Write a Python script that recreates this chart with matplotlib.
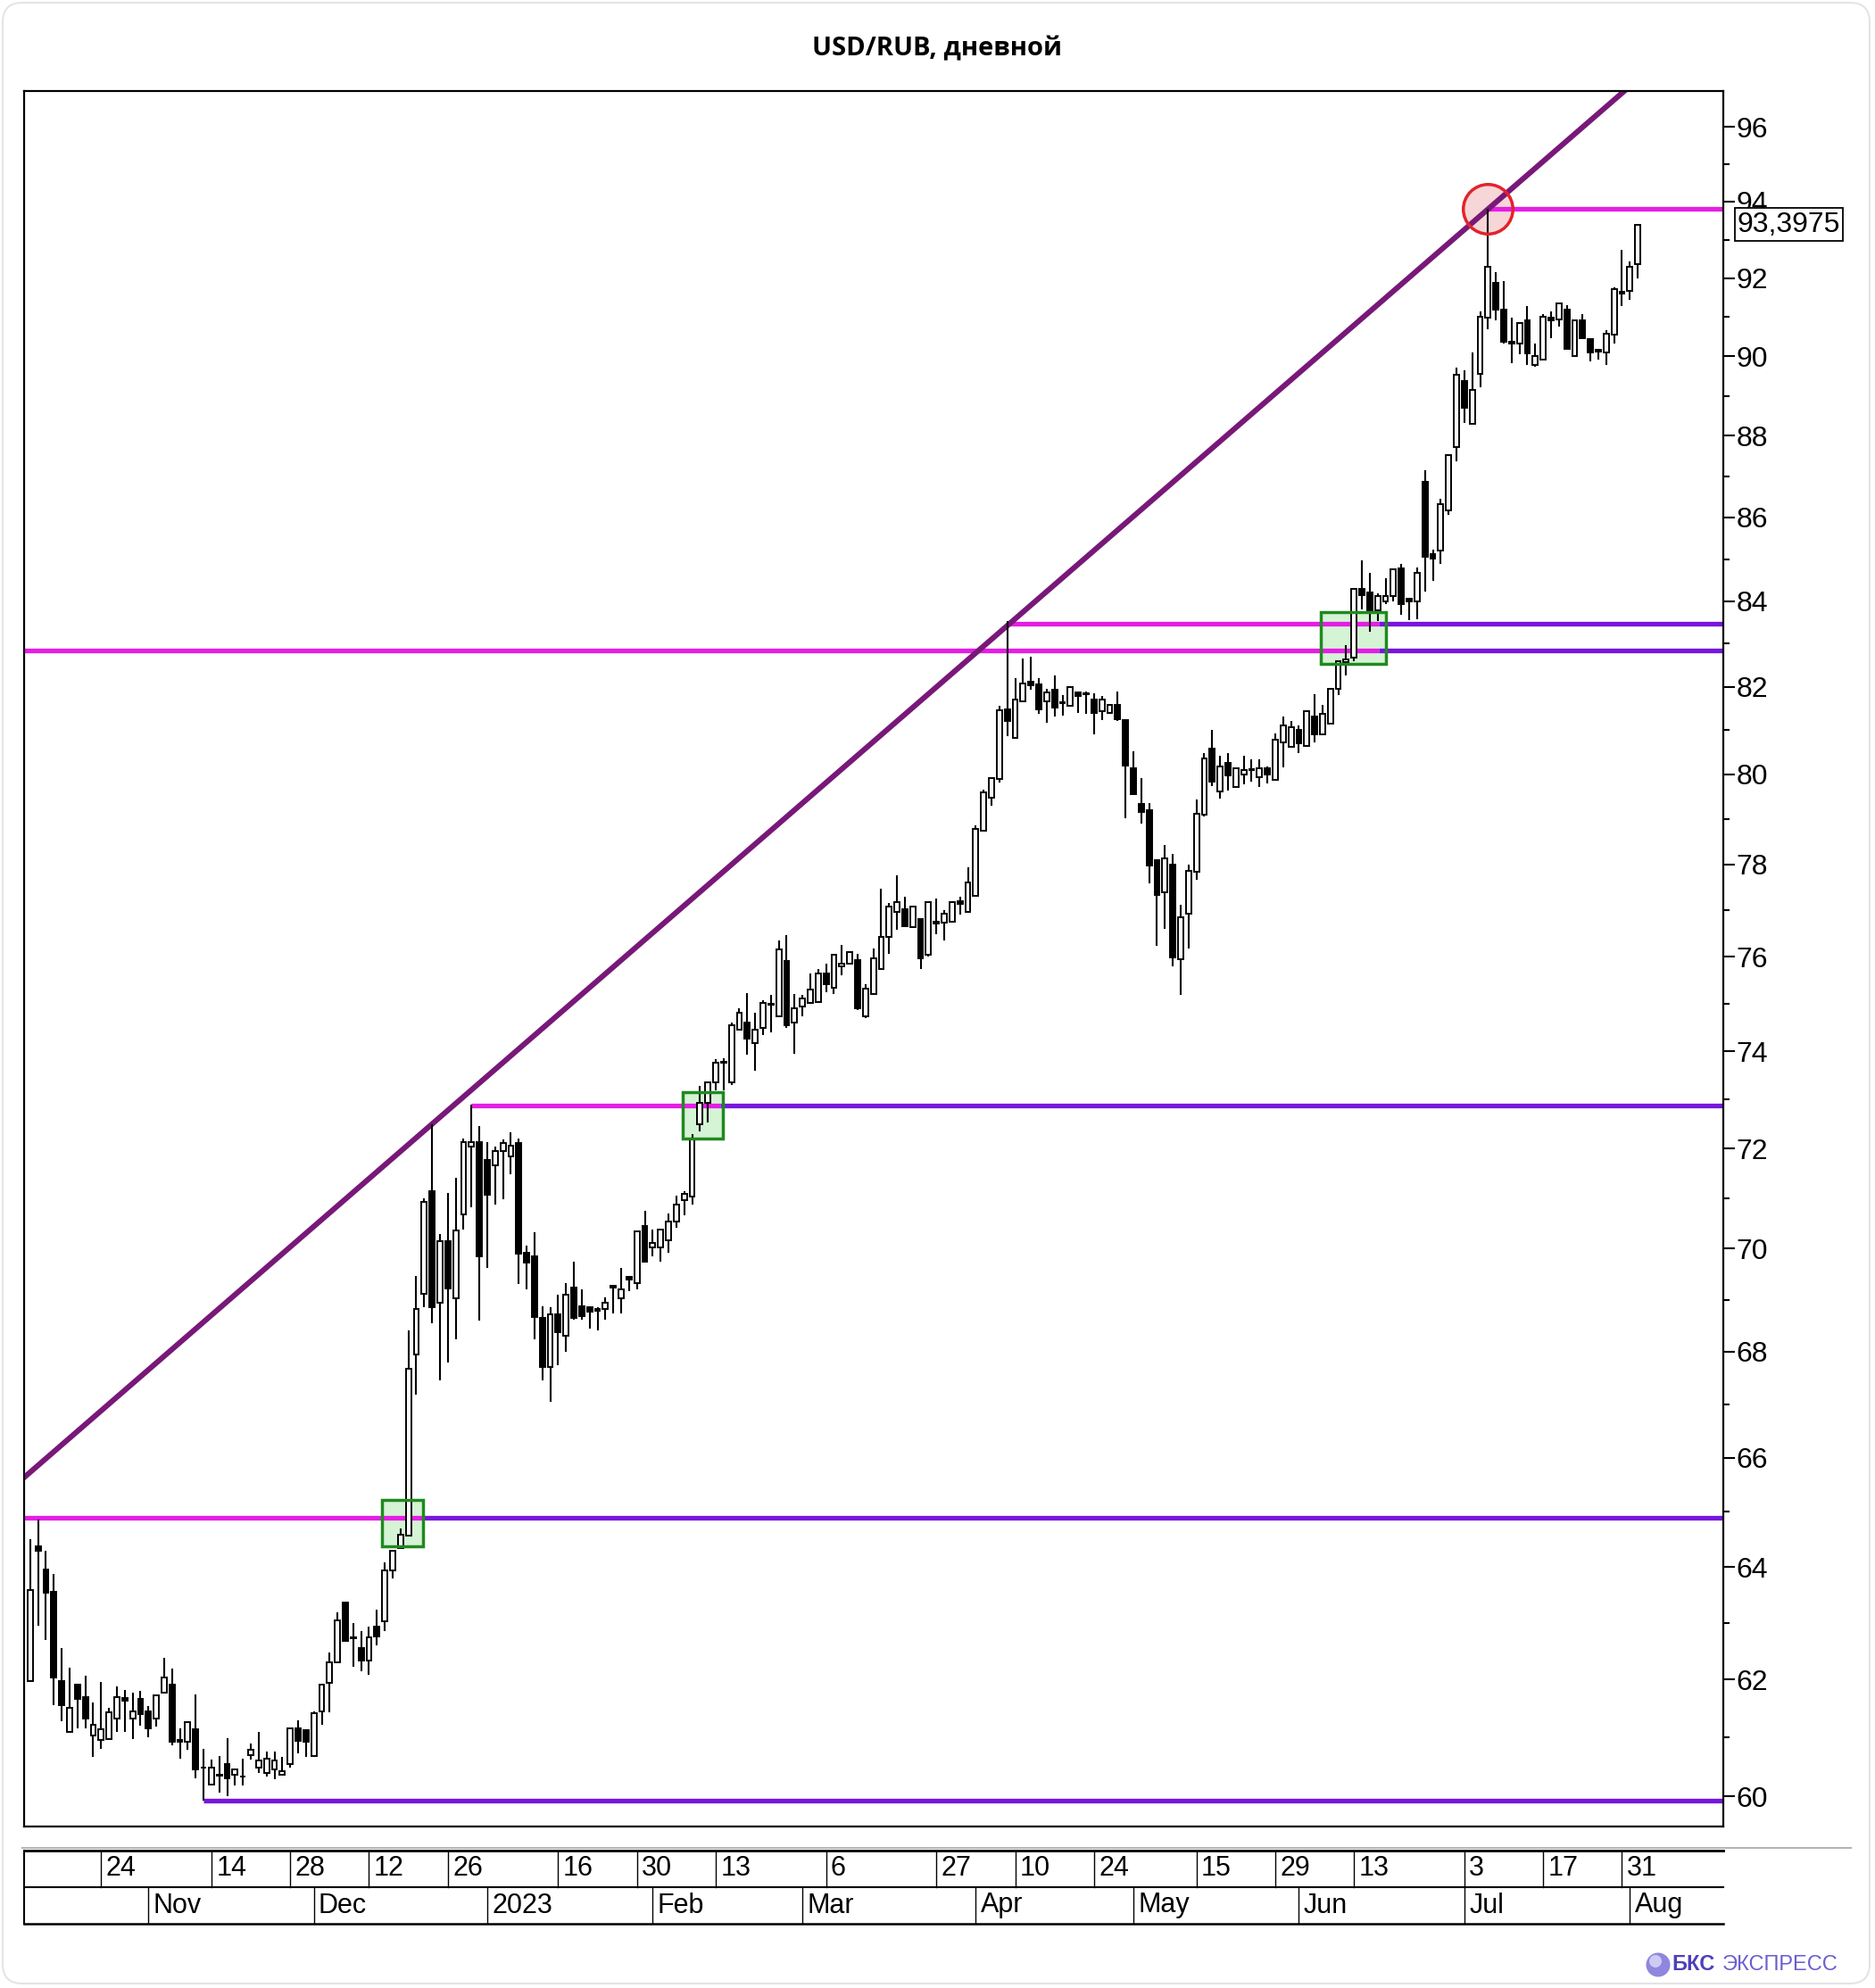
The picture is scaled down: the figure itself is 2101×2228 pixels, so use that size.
#!/usr/bin/env python3
"""USD/RUB daily candles with breakout levels and trend channel."""

import numpy as np
import pandas as pd
import matplotlib

matplotlib.use("Agg")
import matplotlib.pyplot as plt
import matplotlib.transforms as mtrans
from matplotlib.lines import Line2D
from matplotlib.patches import Rectangle, FancyBboxPatch, Ellipse
from matplotlib.ticker import FixedLocator, FixedFormatter, NullFormatter

# trading calendar (weekdays minus exchange holidays)
first_day = "2022-10-11"
last_day = "2023-08-02"
holidays = ["2022-11-04", "2023-01-02", "2023-02-23", "2023-03-08",
            "2023-05-01", "2023-05-09", "2023-06-12"]

opens = [
    61.97, 64.38, 63.95, 63.55, 61.98, 61.10, 61.92, 61.69, 61.04, 60.96,
    60.98, 61.32, 61.68, 61.32, 61.66, 61.45, 61.32, 61.78, 61.92, 60.95,
    60.93, 61.14, 60.49, 60.20, 60.37, 60.55, 60.36, 60.34, 60.70, 60.49,
    60.40, 60.46, 60.36, 60.54, 61.16, 61.12, 60.69, 61.45, 61.94, 62.30,
    63.36, 62.75, 62.55, 62.34, 62.94, 63.03, 63.94, 64.34, 64.56, 67.94,
    69.11, 71.15, 68.94, 70.14, 69.03, 70.67, 72.04, 72.13, 71.77, 71.66,
    71.95, 71.84, 72.12, 69.92, 69.85, 68.65, 67.70, 68.71, 68.31, 69.24,
    68.88, 68.85, 68.78, 68.83, 69.28, 69.03, 69.45, 69.32, 70.45, 70.02,
    70.02, 70.16, 70.54, 70.97, 71.03, 72.50, 72.93, 73.36, 73.78, 73.35,
    74.45, 74.60, 74.18, 74.48, 74.97, 74.74, 75.90, 74.60, 74.94, 75.01,
    75.03, 75.63, 75.34, 75.80, 75.84, 75.92, 74.74, 75.21, 75.73, 76.42,
    76.96, 77.02, 76.64, 76.80, 76.03, 76.72, 76.73, 76.75, 77.19, 76.97,
    77.31, 78.74, 79.47, 79.90, 81.48, 80.83, 81.67, 82.12, 82.05, 81.67,
    81.92, 81.64, 81.56, 81.87, 81.85, 81.70, 81.44, 81.39, 81.59, 81.24,
    80.13, 79.33, 79.19, 78.10, 77.39, 77.99, 75.94, 76.92, 77.83, 79.09,
    80.58, 79.62, 80.26, 79.71, 79.99, 80.10, 79.93, 80.13, 79.88, 80.73,
    80.62, 81.00, 80.64, 81.32, 80.90, 81.16, 81.95, 82.58, 82.67, 84.28,
    84.20, 83.79, 83.99, 84.13, 84.77, 84.05, 83.99, 86.87, 85.11, 85.20,
    86.18, 87.72, 89.38, 88.30, 89.54, 90.97, 91.87, 91.18, 90.36, 90.32,
    90.91, 89.77, 89.90, 90.98, 90.93, 91.18, 90.01, 90.91, 90.43, 90.15,
    90.09, 90.55, 91.64, 91.67, 92.35,
]
highs = [
    64.51, 64.86, 64.30, 63.88, 62.56, 62.21, 61.92, 62.07, 61.60, 61.96,
    61.51, 61.89, 61.82, 61.78, 61.80, 61.54, 61.75, 62.39, 62.20, 61.16,
    61.27, 61.74, 60.81, 60.62, 60.68, 60.99, 60.47, 60.63, 60.90, 61.10,
    60.76, 60.76, 60.67, 61.16, 61.29, 61.14, 61.45, 61.92, 62.48, 63.19,
    63.36, 63.00, 62.85, 62.94, 63.24, 64.08, 64.30, 64.70, 68.40, 69.47,
    71.00, 72.50, 70.29, 71.11, 71.41, 72.20, 72.89, 72.46, 72.14, 72.05,
    72.19, 72.34, 72.20, 70.06, 70.32, 68.88, 68.85, 69.10, 69.32, 69.74,
    69.20, 68.88, 68.85, 69.05, 69.28, 69.63, 69.45, 70.35, 70.75, 70.38,
    70.38, 70.70, 71.05, 71.15, 72.30, 73.29, 73.36, 73.84, 73.86, 74.60,
    74.90, 75.22, 74.80, 75.08, 75.18, 76.34, 76.46, 75.21, 75.18, 75.63,
    75.73, 75.85, 76.06, 76.25, 76.12, 76.06, 75.41, 76.18, 77.46, 77.15,
    77.75, 77.30, 77.10, 76.82, 77.19, 77.25, 77.01, 77.20, 77.30, 77.93,
    78.87, 79.65, 79.93, 81.56, 83.52, 82.19, 82.66, 82.70, 82.19, 81.96,
    82.26, 81.81, 82.02, 81.88, 81.88, 81.85, 81.78, 81.60, 81.89, 81.25,
    80.53, 79.92, 79.36, 78.12, 78.42, 78.22, 77.11, 77.99, 79.44, 80.48,
    81.00, 80.43, 80.48, 80.13, 80.42, 80.33, 80.33, 80.18, 80.92, 81.32,
    81.21, 81.11, 81.45, 81.82, 81.58, 81.95, 82.60, 82.96, 84.30, 84.97,
    84.68, 84.18, 84.54, 84.75, 84.89, 84.05, 84.80, 87.16, 85.23, 86.45,
    87.53, 89.71, 89.64, 90.10, 91.13, 93.80, 92.16, 91.92, 90.98, 90.85,
    91.27, 90.31, 91.08, 91.14, 91.35, 91.31, 90.92, 91.08, 90.44, 90.16,
    90.66, 91.75, 92.73, 92.44, 93.40,
]
lows = [
    61.97, 62.95, 62.70, 61.56, 61.28, 61.10, 61.15, 61.15, 60.66, 60.81,
    60.98, 61.09, 61.09, 60.97, 61.20, 61.00, 61.19, 61.77, 60.86, 60.64,
    60.79, 60.30, 59.92, 60.18, 60.06, 60.00, 60.18, 60.18, 60.62, 60.40,
    60.34, 60.28, 60.36, 60.48, 60.73, 60.67, 60.69, 61.22, 61.43, 62.30,
    62.68, 62.22, 62.15, 62.09, 62.60, 62.85, 63.80, 64.34, 64.56, 67.18,
    68.85, 68.54, 67.46, 67.80, 68.24, 70.38, 70.82, 68.59, 69.63, 70.88,
    70.99, 71.49, 69.31, 69.20, 68.24, 67.46, 67.04, 67.74, 68.00, 68.62,
    68.62, 68.44, 68.41, 68.62, 68.74, 68.74, 69.17, 69.20, 69.72, 69.85,
    69.75, 69.92, 70.41, 70.66, 70.88, 72.35, 72.53, 73.19, 73.19, 73.30,
    74.45, 73.93, 73.60, 74.33, 74.40, 74.74, 74.48, 73.94, 74.73, 75.00,
    75.03, 75.25, 75.21, 75.60, 75.82, 74.87, 74.69, 75.18, 75.73, 76.05,
    76.57, 76.66, 76.62, 75.73, 76.01, 76.48, 76.34, 76.73, 76.90, 76.95,
    77.31, 78.74, 79.30, 79.82, 80.86, 80.83, 81.67, 81.92, 81.37, 81.17,
    81.31, 81.34, 81.54, 81.40, 81.37, 80.90, 81.24, 81.38, 81.21, 79.01,
    79.53, 78.89, 77.58, 76.24, 76.60, 75.80, 75.19, 76.17, 77.66, 79.06,
    79.73, 79.46, 79.63, 79.71, 79.77, 79.83, 79.71, 79.79, 79.88, 80.16,
    80.62, 80.48, 80.62, 80.73, 80.90, 81.16, 81.80, 82.26, 82.60, 83.80,
    83.27, 83.52, 83.93, 84.00, 83.67, 83.55, 83.57, 84.22, 84.49, 84.88,
    86.06, 87.37, 88.32, 88.30, 89.22, 90.68, 90.92, 90.32, 89.81, 90.04,
    89.77, 89.72, 89.90, 90.45, 90.74, 90.19, 89.99, 90.45, 89.87, 89.90,
    89.77, 90.32, 91.27, 91.44, 92.00,
]
closes = [
    63.58, 64.30, 63.54, 62.04, 61.56, 61.51, 61.66, 61.32, 61.22, 61.14,
    61.43, 61.69, 61.64, 61.45, 61.40, 61.15, 61.73, 62.04, 60.93, 60.92,
    61.27, 60.46, 60.48, 60.49, 60.35, 60.30, 60.45, 60.33, 60.79, 60.61,
    60.63, 60.61, 60.43, 61.16, 60.94, 60.92, 61.42, 61.92, 62.30, 63.04,
    62.68, 62.73, 62.34, 62.74, 62.76, 63.94, 64.30, 64.59, 67.67, 68.82,
    70.93, 68.86, 70.14, 69.22, 70.36, 72.13, 72.13, 69.85, 71.07, 71.95,
    72.12, 72.06, 69.91, 69.73, 68.66, 67.70, 68.71, 68.37, 69.10, 68.65,
    68.68, 68.77, 68.83, 68.95, 69.24, 69.20, 69.40, 70.35, 69.75, 70.12,
    70.38, 70.54, 70.88, 71.09, 72.20, 72.93, 73.36, 73.76, 73.76, 74.55,
    74.81, 74.26, 74.45, 75.01, 75.00, 76.15, 74.55, 74.90, 75.10, 75.30,
    75.63, 75.42, 76.04, 75.84, 76.10, 74.90, 75.32, 75.97, 76.42, 77.08,
    77.18, 76.66, 77.08, 75.97, 77.17, 76.75, 76.92, 77.18, 77.13, 77.60,
    78.78, 79.60, 79.91, 81.46, 81.21, 81.70, 82.08, 82.04, 81.48, 81.87,
    81.52, 81.62, 82.00, 81.78, 81.83, 81.40, 81.70, 81.58, 81.25, 80.19,
    79.56, 79.15, 77.97, 77.33, 78.14, 75.99, 76.84, 77.86, 79.11, 80.37,
    79.83, 80.17, 79.97, 80.13, 80.09, 80.12, 80.13, 79.99, 80.78, 81.11,
    81.07, 80.70, 81.44, 80.90, 81.37, 81.95, 82.60, 82.63, 84.28, 84.15,
    83.79, 84.11, 84.11, 84.75, 83.92, 84.00, 84.68, 85.06, 85.01, 86.32,
    87.53, 89.53, 88.69, 89.15, 91.00, 92.30, 91.19, 90.36, 90.31, 90.85,
    90.07, 90.01, 90.99, 90.90, 91.35, 90.19, 90.91, 90.45, 90.09, 90.11,
    90.57, 91.72, 91.60, 92.30, 93.3975,
]
last_price = 93.3975

# axis labels
day_tick_dates = ["2022-10-24", "2022-11-14", "2022-11-28", "2022-12-12", "2022-12-26",
                  "2023-01-16", "2023-01-30", "2023-02-13", "2023-03-06", "2023-03-27",
                  "2023-04-10", "2023-04-24", "2023-05-15", "2023-05-29", "2023-06-13",
                  "2023-07-03", "2023-07-17", "2023-07-31"]
day_labels = ["24", "14", "28", "12", "26", "16", "30", "13", "6", "27",
              "10", "24", "15", "29", "13", "3", "17", "31"]
month_labels = ["Nov", "Dec", "2023", "Feb", "Mar", "Apr", "May", "Jun", "Jul", "Aug"]
price_ticks = [60, 62, 64, 66, 68, 70, 72, 74, 76, 78, 80, 82, 84, 86, 88, 90, 92, 94, 96]
price_minor = [61, 63, 65, 67, 69, 71, 73, 75, 77, 79, 81, 83, 85, 87, 89, 91, 93, 95]

# drawn levels: price, first candle (None = from the left edge),
# candle where it turns from resistance (magenta) to support (violet)
level_values = [64.90, 59.92, 72.88, 82.84, 83.46, 93.80]
level_start = [None, 22, 56, None, 124, 185]
level_flip = [50.0, 22, 87.6, 171.2, 171.2, None]

# trend line through two highs (candle index, price)
trend_idx = [51, 185]
trend_val = [72.50, 93.80]

# breakout boxes: candle span and price span
box_left = [44.6, 82.8, 163.8]
box_right = [49.85, 87.85, 172.1]
box_low = [64.37, 72.21, 82.52]
box_high = [65.22, 73.15, 83.74]
touch_idx, touch_val = 185, 93.80

MAGENTA = "#e41ee4"
VIOLET = "#7816dc"
TREND = "#781878"

plt.rcParams["font.family"] = ["Liberation Sans", "DejaVu Sans"]

dates = pd.bdate_range(first_day, last_day)
dates = dates[~dates.isin(pd.to_datetime(holidays))]
idx = np.arange(len(dates))
o = np.array(opens)
h = np.array(highs)
l = np.array(lows)
c = np.array(closes)

W, H = 2101, 2228
fig = plt.figure(figsize=(W / 100, H / 100), dpi=100)
fig.patch.set_facecolor("white")

xlim = (-0.77, 214.86)
ax = fig.add_axes([27 / W, 1 - 2047 / H, 1904 / W, (2047 - 101.7) / H])
ax.set_yscale("log")
ax.set_xlim(*xlim)
ax.set_ylim(59.49, 96.98)

# breakout boxes and the touch circle (fills below, outlines on top)
for x0, x1, y0, y1 in zip(box_left, box_right, box_low, box_high):
    ax.add_patch(Rectangle((x0, y0), x1 - x0, y1 - y0, facecolor="#d5f3d5",
                           edgecolor="none", zorder=1))
    ax.add_patch(Rectangle((x0, y0), x1 - x0, y1 - y0, fill=False,
                           edgecolor="#1f8a1f", linewidth=2.5, zorder=6))
ax.plot([touch_idx], [touch_val], "o", markersize=40, markerfacecolor="#f6d6d6",
        markeredgecolor="none", zorder=1)
ax.plot([touch_idx], [touch_val], "o", markersize=40, markerfacecolor="none",
        markeredgecolor="#e2232b", markeredgewidth=2.5, zorder=6)

# horizontal levels
for val, start, flip in zip(level_values, level_start, level_flip):
    s = xlim[0] if start is None else start
    if flip is None:
        ax.plot([s, xlim[1]], [val, val], color=MAGENTA, lw=3.8, zorder=2,
                solid_capstyle="butt")
        continue
    if flip > s:
        ax.plot([s, flip], [val, val], color=MAGENTA, lw=3.8, zorder=2,
                solid_capstyle="butt")
    ax.plot([flip, xlim[1]], [val, val], color=VIOLET, lw=3.8, zorder=2,
            solid_capstyle="butt")

# trend line, straight on the log scale
slope = (np.log(trend_val[1]) - np.log(trend_val[0])) / (trend_idx[1] - trend_idx[0])
tx = np.array(xlim)
ty = np.exp(np.log(trend_val[0]) + slope * (tx - trend_idx[0]))
ax.plot(tx, ty, color=TREND, lw=4.4, zorder=2.5)

# candles
up = c >= o
body_lo = np.minimum(o, c)
body_hi = np.maximum(o, c)
ax.vlines(idx, l, h, color="black", lw=1.5, zorder=3)
ax.bar(idx, body_hi - body_lo, bottom=body_lo, width=0.66,
       color=np.where(up, "white", "black"), edgecolor="black", linewidth=1.4, zorder=4)

# price axis on the right
ax.yaxis.tick_right()
ax.yaxis.set_major_locator(FixedLocator(price_ticks))
ax.yaxis.set_major_formatter(FixedFormatter([str(v) for v in price_ticks]))
ax.yaxis.set_minor_locator(FixedLocator(price_minor))
ax.yaxis.set_minor_formatter(NullFormatter())
ax.tick_params(axis="y", which="major", direction="out", length=9.5, width=1.5,
               labelsize=23, pad=1)
ax.tick_params(axis="y", which="minor", direction="out", length=5, width=1.5)
ax.set_xticks([])
for sp in ax.spines.values():
    sp.set_linewidth(1.6)
    sp.set_color("black")

price_tr = mtrans.blended_transform_factory(ax.transAxes, ax.transData)
ax.text(1.0083, last_price, "93,3975", transform=price_tr, fontsize=23,
        ha="left", va="center", zorder=7,
        bbox=dict(boxstyle="square,pad=0.1", facecolor="white", edgecolor="black", lw=1.3))

# date band under the chart
axd = fig.add_axes([27 / W, 1 - 2156 / H, 1904 / W, 82 / H])
axd.set_xlim(*xlim)
axd.set_ylim(0, 2)
axd.axis("off")
axd.plot(xlim, [2, 2], color="black", lw=2.0, clip_on=False)
axd.plot(xlim, [1, 1], color="black", lw=1.5, clip_on=False)
axd.plot(xlim, [0, 0], color="black", lw=1.8, clip_on=False)
axd.plot([xlim[0], xlim[0]], [0, 2], color="black", lw=1.5, clip_on=False)

day_pos = dates.get_indexer(pd.to_datetime(day_tick_dates))
for p, lab in zip(day_pos, day_labels):
    axd.plot([p, p], [1, 2], color="black", lw=1.0)
    axd.text(p + 0.6, 1.5, lab, fontsize=22, ha="left", va="center")

month_pos = np.flatnonzero(np.diff(dates.month.values) != 0) + 1
for p, lab in zip(month_pos, month_labels):
    axd.plot([p, p], [0, 1], color="black", lw=1.0)
    axd.text(p + 0.6, 0.5, lab, fontsize=22, ha="left", va="center")

fig.add_artist(Line2D([25 / W, 2074 / W], [1 - 2071 / H, 1 - 2071 / H],
                      color="#b5b5b5", lw=1.5))

# title, card border and watermark
fig.text(0.5, 1 - 55 / H, "USD/RUB, дневной", ha="center", va="center",
         fontsize=21, fontweight="bold", family=["Open Sans", "DejaVu Sans"])
fig.patches.append(FancyBboxPatch((3, 5), 2092, 2220,
                                  boxstyle="round,pad=0,rounding_size=22",
                                  transform=mtrans.IdentityTransform(),
                                  facecolor="none", edgecolor="#e4e4e4", lw=1.5))
fig.add_artist(Ellipse((1858 / W, 1 - 2202 / H), 27 / W, 27 / H,
                       transform=fig.transFigure, facecolor="#8f86de", edgecolor="none"))
fig.add_artist(Ellipse((1855 / W, 1 - 2198 / H), 14 / W, 14 / H,
                       transform=fig.transFigure, facecolor="#cfcaf3", edgecolor="none"))
fig.text(1873 / W, 1 - 2202 / H, "БКС", ha="left", va="center", fontsize=17,
         fontweight="bold", color="#4e40b8")
fig.text(1930 / W, 1 - 2202 / H, "ЭКСПРЕСС", ha="left", va="center", fontsize=17,
         color="#6a5fd0")

fig.savefig("out.png", dpi=100)
print("saved out.png", len(dates), len(closes))
